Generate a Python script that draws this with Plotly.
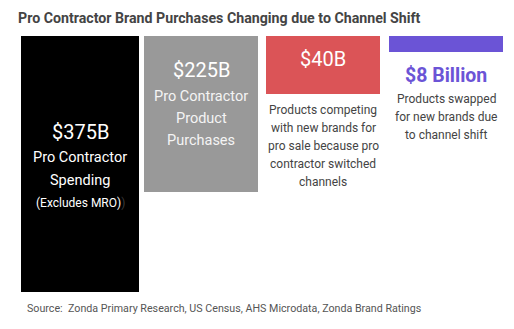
import plotly.graph_objects as go

# ---- data ----
categories = [
    "Pro Contractor Spending",
    "Pro Contractor Product Purchases",
    "Products Competing",
    "Products Swapped",
]
values = [375, 225, 40, 8]
value_formats = ["${}B", "${}B", "${}B", "${} Billion"]
descriptions = [
    ["Pro Contractor", "Spending", "(Excludes MRO)<span style='color:#3a3a3a'>)</span>"],
    ["Pro Contractor", "Product", "Purchases"],
    ["Products competing", "with new brands for", "pro sale because pro",
     "contractor switched", "channels"],
    ["Products swapped", "for new brands due", "to channel shift"],
]
title_text = "Pro Contractor Brand Purchases Changing due to Channel Shift"
source_text = "Source:  Zonda Primary Research, US Census, AHS Microdata, Zonda Brand Ratings"

# ---- styling / layout ----
W, H = 514, 329
PL, PR, PT, PB = 21, 503, 36, 292          # plot area in pixels
colors = ["#000000", "#999999", "#DB5457", "#6B54D6"]
tile_x = [(21, 139), (144, 258), (266, 380), (389, 503)]   # tile columns (px)
tile_scale = [375, 369, 176.6, 128]        # per-tile axis depth (each tile has its own scale)

value_style = [
    dict(y=132, size=20, color="#ffffff", bold=False),
    dict(y=70, size=20, color="#ffffff", bold=False),
    dict(y=59, size=20, color="#ffffff", bold=False),
    dict(y=75, size=19.5, color="#6B54D6", bold=True),
]
desc_style = [
    dict(ys=[157, 180, 203], sizes=[14.5, 14.5, 12], color="#ffffff"),
    dict(ys=[96, 118, 140], sizes=[14.5, 14.5, 14.5], color="#f4f4f4"),
    dict(ys=[110, 128, 146, 164, 182], sizes=[12] * 5, color="#444444"),
    dict(ys=[99, 117, 135], sizes=[12] * 3, color="#444444"),
]

FONT = "Roboto"


def px_x(x):
    return (x - PL) / (PR - PL)


def px_y(y):
    return (PB - y) / (PB - PT)


fig = go.Figure()
layout_axes = {}
for i, (cat, val, col) in enumerate(zip(categories, values, colors)):
    n = "" if i == 0 else str(i + 1)
    fig.add_trace(go.Bar(
        x=[cat], y=[val], width=1,
        marker=dict(color=col, line=dict(width=0)),
        xaxis="x" + n, yaxis="y" + n,
        hoverinfo="x+y", showlegend=False,
    ))
    x0, x1 = tile_x[i]
    layout_axes["xaxis" + n] = dict(
        domain=[px_x(x0), px_x(x1)], range=[-0.5, 0.5],
        visible=False, fixedrange=True,
    )
    layout_axes["yaxis" + n] = dict(
        anchor="x" + n, range=[tile_scale[i], 0],
        visible=False, fixedrange=True,
    )

annotations = []
for i, val in enumerate(values):
    cx = px_x((tile_x[i][0] + tile_x[i][1]) / 2)
    vs = value_style[i]
    label = value_formats[i].format(val)
    if vs["bold"]:
        label = "<b>" + label + "</b>"
    annotations.append(dict(
        x=cx, y=px_y(vs["y"]), xref="paper", yref="paper",
        text=label, showarrow=False, xanchor="center", yanchor="middle",
        font=dict(family=FONT, size=vs["size"], color=vs["color"]),
    ))
    ds = desc_style[i]
    for line, y, s in zip(descriptions[i], ds["ys"], ds["sizes"]):
        annotations.append(dict(
            x=cx, y=px_y(y), xref="paper", yref="paper",
            text=line, showarrow=False, xanchor="center", yanchor="middle",
            font=dict(family=FONT, size=s, color=ds["color"]),
        ))

annotations.append(dict(
    x=px_x(16), y=px_y(18), xref="paper", yref="paper",
    text="<b>" + title_text + "</b>", showarrow=False,
    xanchor="left", yanchor="middle",
    font=dict(family=FONT, size=14.2, color="#444444"),
))
annotations.append(dict(
    x=px_x(25), y=px_y(308), xref="paper", yref="paper",
    text=source_text, showarrow=False,
    xanchor="left", yanchor="middle",
    font=dict(family=FONT, size=10.7, color="#555555"),
))

fig.update_layout(
    width=W, height=H,
    margin=dict(l=PL, r=W - PR, t=PT, b=H - PB, pad=0),
    paper_bgcolor="#ffffff", plot_bgcolor="rgba(0,0,0,0)",
    annotations=annotations,
    bargap=0,
    **layout_axes,
)

fig.write_html("out.html", config={"displayModeBar": False})
